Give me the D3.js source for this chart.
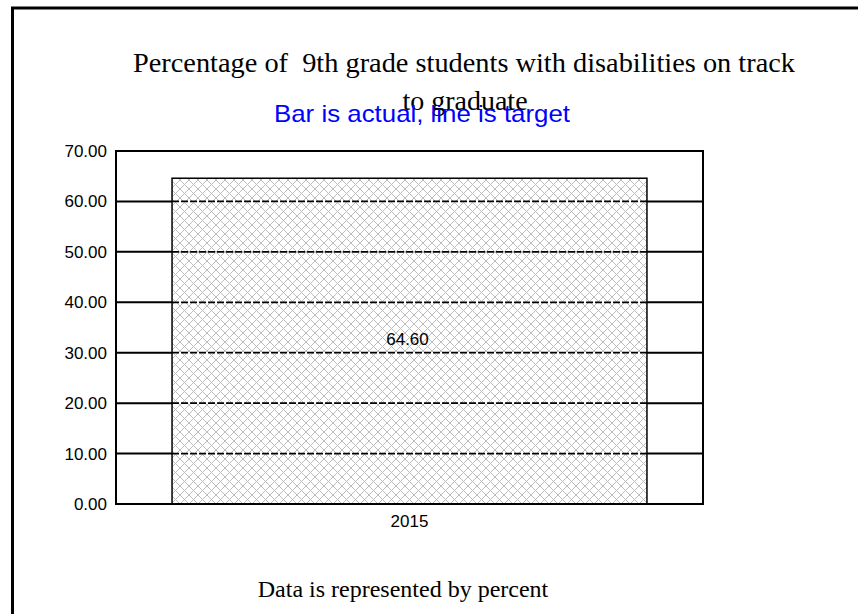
<!DOCTYPE html>
<html><head><meta charset="utf-8">
<script src="https://cdn.jsdelivr.net/npm/d3@7"></script>
<style>body{margin:0;background:#fff}svg{display:block}text{white-space:pre}</style>
</head><body>
<svg id="c" width="858" height="614"></svg>
<script>
const categories = ["2015"];
const actualValues = [64.60];
const yTicks = [0, 10, 20, 30, 40, 50, 60, 70];
const titleLines = ["Percentage of  9th grade students with disabilities on track", "to graduate"];
const subtitle = "Bar is actual, line is target";
const footer = "Data is represented by percent";

const svg = d3.select("#c");
const m = {left:116, right:703, top:151, bottom:504};
const sans = "Liberation Sans, Arial, sans-serif";
const serif = "Liberation Serif, Times New Roman, serif";

// outer frame
svg.append("path").attr("d","M12.5,620 L12.5,8 L870,8").attr("fill","none").attr("stroke","#000").attr("stroke-width",3);

const defs = svg.append("defs");
const P = 9;
const pat = defs.append("pattern").attr("id","hatch").attr("patternUnits","userSpaceOnUse").attr("width",P).attr("height",P);
pat.append("rect").attr("width",P).attr("height",P).attr("fill","#fff");
pat.append("path").attr("d",`M0,0 L${P},${P} M${P},0 L0,${P}`).attr("stroke","#bdbdbd").attr("stroke-width",1);

const x = d3.scaleBand().domain(categories).range([m.left, m.right]).paddingInner(0).paddingOuter(0.118);
const y = d3.scaleLinear().domain([0,70]).range([m.bottom, m.top]);

// gridlines (solid)
svg.append("g").selectAll("line").data(yTicks.filter(d=>d>0 && d<70)).join("line")
  .attr("x1",m.left).attr("x2",m.right).attr("y1",d=>y(d)).attr("y2",d=>y(d))
  .attr("stroke","#000").attr("stroke-width",2);

// bars
svg.append("g").selectAll("rect").data(actualValues).join("rect")
  .attr("x",(d,i)=>x(categories[i])).attr("width",x.bandwidth())
  .attr("y",d=>y(d)).attr("height",d=>y(0)-y(d))
  .attr("fill","url(#hatch)").attr("stroke","#000").attr("stroke-width",1.5);

// dashed gridlines over bar
actualValues.forEach((v,i)=>{
  svg.append("g").selectAll("line").data(yTicks.filter(d=>d>0 && d<v)).join("line")
    .attr("x1",x(categories[i])).attr("x2",x(categories[i])+x.bandwidth())
    .attr("y1",d=>y(d)).attr("y2",d=>y(d))
    .attr("stroke","#000").attr("stroke-width",1.8).attr("stroke-dasharray","7,2");
});

// plot frame
svg.append("rect").attr("x",m.left).attr("y",m.top).attr("width",m.right-m.left).attr("height",m.bottom-m.top)
  .attr("fill","none").attr("stroke","#000").attr("stroke-width",2);

// y axis labels
const yAxis = d3.axisLeft(y).tickValues(yTicks).tickFormat(d3.format(".2f")).tickSize(0).tickPadding(9);
const ga = svg.append("g").attr("transform",`translate(${m.left},0)`).call(yAxis);
ga.select(".domain").remove();
ga.selectAll("text").attr("font-family",sans).attr("font-size",17).attr("fill","#000");

// x axis labels
const xAxis = d3.axisBottom(x).tickSize(0).tickPadding(11);
const gx = svg.append("g").attr("transform",`translate(0,${m.bottom})`).call(xAxis);
gx.select(".domain").remove();
gx.selectAll("text").attr("font-family",sans).attr("font-size",17).attr("fill","#000");

// value labels
svg.append("g").selectAll("text").data(actualValues).join("text")
  .attr("x",(d,i)=>x(categories[i])+x.bandwidth()/2-2).attr("y",d=>y(d/2)+4)
  .attr("text-anchor","middle").attr("font-family",sans).attr("font-size",17)
  .text(d=>d3.format(".2f")(d));

// titles
svg.append("text").attr("x",464).attr("y",72).attr("text-anchor","middle")
  .attr("font-family",serif).attr("font-size",28)
  .attr("textLength",662).attr("lengthAdjust","spacingAndGlyphs").text(titleLines[0]);
svg.append("text").attr("x",465).attr("y",110).attr("text-anchor","middle")
  .attr("font-family",serif).attr("font-size",28).text(titleLines[1]);
svg.append("text").attr("x",422).attr("y",122).attr("text-anchor","middle").attr("fill","#0000ff")
  .attr("font-family",sans).attr("font-size",24)
  .attr("textLength",296).attr("lengthAdjust","spacingAndGlyphs").text(subtitle);
svg.append("text").attr("x",403).attr("y",597).attr("text-anchor","middle")
  .attr("font-family",serif).attr("font-size",24).text(footer);
</script>
</body></html>
